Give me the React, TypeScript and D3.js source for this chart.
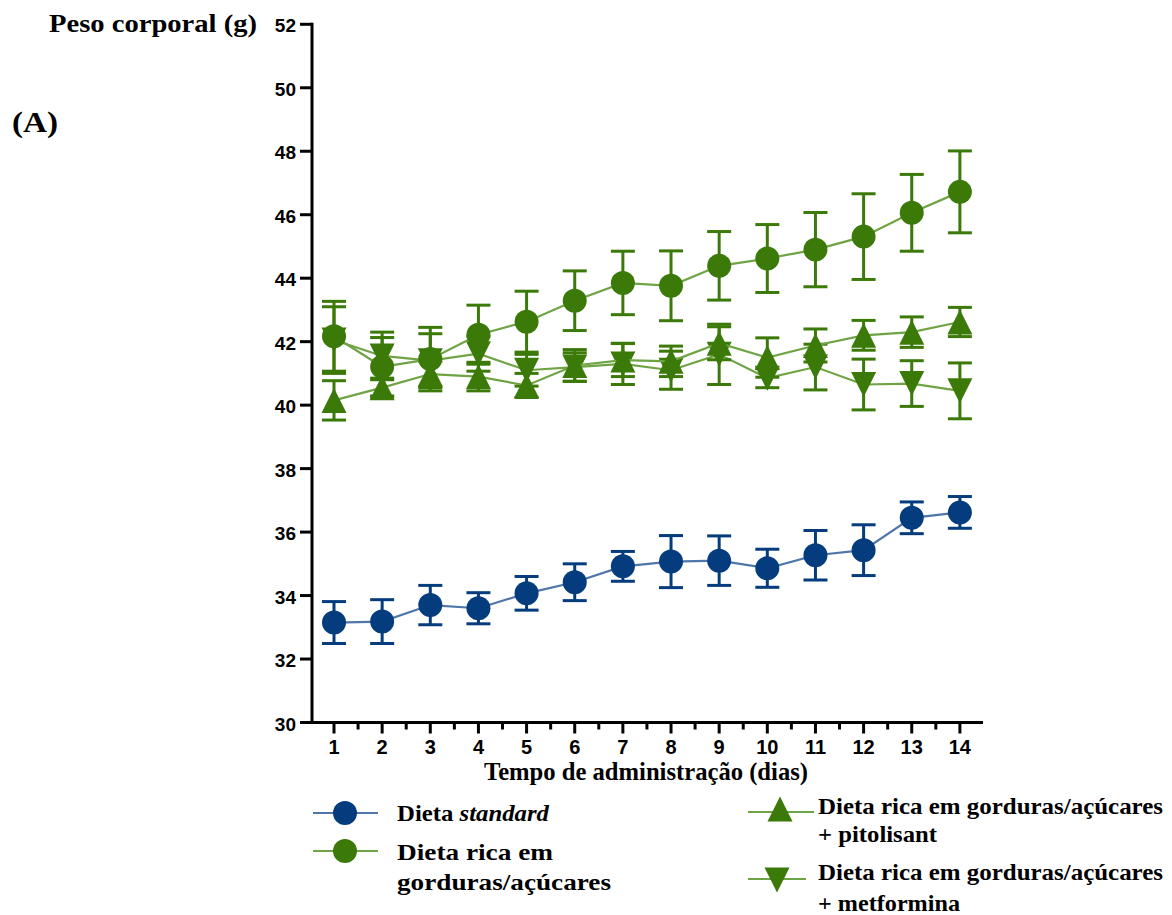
import React from "react";
import * as d3 from "d3";

// Body weight (g) per day of administration, mean and SEM per group
const days = [1, 2, 3, 4, 5, 6, 7, 8, 9, 10, 11, 12, 13, 14];

const standardMean = [33.15, 33.18, 33.7, 33.6, 34.07, 34.42, 34.92, 35.07, 35.1, 34.86, 35.27, 35.43, 36.45, 36.62];
const standardSem = [0.66, 0.69, 0.62, 0.49, 0.53, 0.58, 0.47, 0.82, 0.78, 0.6, 0.78, 0.8, 0.5, 0.5];

const hfsMean = [42.17, 41.21, 41.45, 42.22, 42.63, 43.29, 43.85, 43.76, 44.39, 44.62, 44.9, 45.31, 46.06, 46.72];
const hfsSem = [1.1, 0.92, 1.0, 0.93, 0.96, 0.94, 1.0, 1.1, 1.08, 1.07, 1.17, 1.35, 1.21, 1.29];

const pitolisantMean = [40.15, 40.55, 40.98, 40.9, 40.62, 41.25, 41.42, 41.38, 41.95, 41.5, 41.88, 42.2, 42.3, 42.62];
const pitolisantSem = [0.62, 0.3, 0.4, 0.45, 0.38, 0.5, 0.52, 0.48, 0.52, 0.62, 0.52, 0.47, 0.48, 0.46];

const metforminaMean = [42.05, 41.55, 41.4, 41.62, 41.1, 41.2, 41.3, 41.1, 41.6, 40.85, 41.2, 40.65, 40.68, 40.45];
const metforminaSem = [1.05, 0.75, 0.85, 0.55, 0.5, 0.45, 0.65, 0.6, 0.95, 0.3, 0.72, 0.8, 0.72, 0.88];

const yTicks = [30, 32, 34, 36, 38, 40, 42, 44, 46, 48, 50, 52];
const xMinorTicks = [1.5, 2.5, 3.5, 4.5, 5.5, 6.5, 7.5, 8.5, 9.5, 10.5, 11.5, 12.5, 13.5];

const BLUE = "#043c7e";
const BLUE_LINE = "#4e76aa";
const GREEN = "#3b7a08";
const GREEN_LINE = "#6fa444";

type Shape = "circle" | "up" | "down";

const SERIF = "'Liberation Serif', 'Times New Roman', serif";
const SANS = "'Liberation Sans', Arial, sans-serif";

const x = d3.scaleLinear().domain([0.543, 14.48]).range([312, 983]);
const y = d3.scaleLinear().domain([30, 52]).range([722.5, 24.3]);

function markerPath(shape: Shape, cx: number, cy: number, size: number): string {
  const p = d3.path();
  const h = size / 2;
  if (shape === "circle") {
    p.arc(cx, cy, h, 0, Math.PI * 2);
  } else if (shape === "up") {
    p.moveTo(cx, cy - h);
    p.lineTo(cx + h, cy + h);
    p.lineTo(cx - h, cy + h);
    p.closePath();
  } else {
    p.moveTo(cx - h, cy - h);
    p.lineTo(cx + h, cy - h);
    p.lineTo(cx, cy + h);
    p.closePath();
  }
  return p.toString();
}

interface SeriesProps {
  mean: number[];
  sem: number[];
  shape: Shape;
  color: string;
  lineColor: string;
}

function Series({ mean, sem, shape, color, lineColor }: SeriesProps) {
  const line = d3
    .line<number>()
    .x((_, i) => x(days[i]))
    .y((d) => y(d));
  const cap = 24;
  return (
    <g>
      <path d={line(mean) ?? ""} fill="none" stroke={lineColor} strokeWidth={2.2} />
      {mean.map((m, i) => {
        const cx = x(days[i]);
        const top = y(m + sem[i]);
        const bot = y(m - sem[i]);
        return (
          <g key={"e" + i} stroke={color} strokeWidth={3} fill="none">
            <line x1={cx} x2={cx} y1={top} y2={bot} />
            <line x1={cx - cap / 2} x2={cx + cap / 2} y1={top} y2={top} />
            <line x1={cx - cap / 2} x2={cx + cap / 2} y1={bot} y2={bot} />
          </g>
        );
      })}
      {mean.map((m, i) => (
        <path key={"m" + i} d={markerPath(shape, x(days[i]), y(m), shape === "circle" ? 24 : 25)} fill={color} />
      ))}
    </g>
  );
}

export default function App() {
  const axisColor = "#000";
  return (
    <svg
      width={1172}
      height={915}
      viewBox="0 0 1172 915"
      style={{ position: "absolute", left: 0, top: 0, background: "#fff" }}
    >
      <rect x={0} y={0} width={1172} height={915} fill="#fff" />

      {/* titles */}
      <text x={49} y={32} fontFamily={SERIF} fontWeight="bold" fontSize={25} textLength={208} lengthAdjust="spacingAndGlyphs">
        Peso corporal (g)
      </text>
      <text x={12} y={132} fontFamily={SERIF} fontWeight="bold" fontSize={30} textLength={46} lengthAdjust="spacingAndGlyphs">
        (A)
      </text>

      {/* y axis */}
      <line x1={312} x2={312} y1={y(52) - 1.5} y2={y(30) + 1.5} stroke={axisColor} strokeWidth={3} />
      {yTicks.map((t) => (
        <g key={"yt" + t}>
          <line x1={300} x2={312} y1={y(t)} y2={y(t)} stroke={axisColor} strokeWidth={3} />
          <text x={296} y={y(t) + 8} textAnchor="end" fontFamily={SANS} fontWeight="bold" fontSize={19}>
            {t}
          </text>
        </g>
      ))}

      {/* x axis */}
      <line x1={310.5} x2={983} y1={y(30)} y2={y(30)} stroke={axisColor} strokeWidth={3} />
      {days.map((d) => (
        <g key={"xt" + d}>
          <line x1={x(d)} x2={x(d)} y1={y(30)} y2={y(30) + 11} stroke={axisColor} strokeWidth={3} />
          <text x={x(d)} y={754} textAnchor="middle" fontFamily={SANS} fontWeight="bold" fontSize={20}>
            {d}
          </text>
        </g>
      ))}
      {xMinorTicks.map((d) => (
        <line key={"xm" + d} x1={x(d)} x2={x(d)} y1={y(30)} y2={y(30) + 7} stroke={axisColor} strokeWidth={3} />
      ))}
      <text x={484} y={780} fontFamily={SERIF} fontWeight="bold" fontSize={25} textLength={324} lengthAdjust="spacingAndGlyphs">
        Tempo de administração (dias)
      </text>

      {/* data */}
      <Series mean={standardMean} sem={standardSem} shape="circle" color={BLUE} lineColor={BLUE_LINE} />
      <Series mean={metforminaMean} sem={metforminaSem} shape="down" color={GREEN} lineColor={GREEN_LINE} />
      <Series mean={pitolisantMean} sem={pitolisantSem} shape="up" color={GREEN} lineColor={GREEN_LINE} />
      <Series mean={hfsMean} sem={hfsSem} shape="circle" color={GREEN} lineColor={GREEN_LINE} />

      {/* legend */}
      <g>
        <line x1={313} x2={378} y1={813} y2={813} stroke={BLUE_LINE} strokeWidth={2.2} />
        <path d={markerPath("circle", 345, 813, 24)} fill={BLUE} />
        <text x={397} y={821} fontFamily={SERIF} fontWeight="bold" fontSize={24} textLength={152} lengthAdjust="spacingAndGlyphs">
          Dieta <tspan fontStyle="italic">standard</tspan>
        </text>

        <line x1={313} x2={378} y1={851} y2={851} stroke={GREEN_LINE} strokeWidth={2.2} />
        <path d={markerPath("circle", 345, 851, 24)} fill={GREEN} />
        <text x={397} y={860} fontFamily={SERIF} fontWeight="bold" fontSize={24} textLength={156} lengthAdjust="spacingAndGlyphs">
          Dieta rica em
        </text>
        <text x={397} y={890} fontFamily={SERIF} fontWeight="bold" fontSize={24} textLength={214} lengthAdjust="spacingAndGlyphs">
          gorduras/açúcares
        </text>

        <line x1={748} x2={814} y1={812} y2={812} stroke={GREEN_LINE} strokeWidth={2.2} />
        <path d={markerPath("up", 780, 809, 25)} fill={GREEN} />
        <text x={818} y={814} fontFamily={SERIF} fontWeight="bold" fontSize={24} textLength={345} lengthAdjust="spacingAndGlyphs">
          Dieta rica em gorduras/açúcares
        </text>
        <text x={818} y={842} fontFamily={SERIF} fontWeight="bold" fontSize={24} textLength={119} lengthAdjust="spacingAndGlyphs">
          + pitolisant
        </text>

        <line x1={748} x2={806} y1={879} y2={879} stroke={GREEN_LINE} strokeWidth={2.2} />
        <path d={markerPath("down", 777, 880, 25)} fill={GREEN} />
        <text x={818} y={880} fontFamily={SERIF} fontWeight="bold" fontSize={24} textLength={345} lengthAdjust="spacingAndGlyphs">
          Dieta rica em gorduras/açúcares
        </text>
        <text x={818} y={911} fontFamily={SERIF} fontWeight="bold" fontSize={24} textLength={142} lengthAdjust="spacingAndGlyphs">
          + metformina
        </text>
      </g>
    </svg>
  );
}
